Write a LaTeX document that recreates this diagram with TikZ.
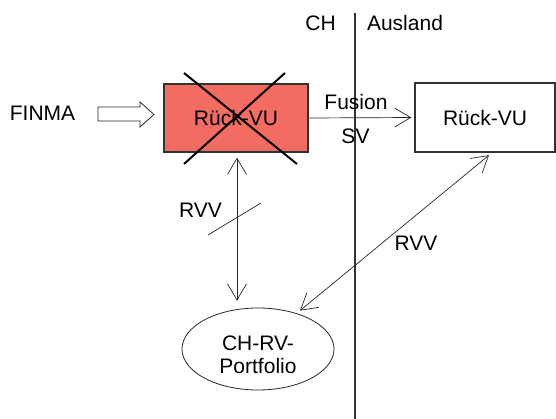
\documentclass[tikz,border=0pt]{standalone}
\usepackage{fontspec}
\setmainfont{Liberation Sans}
\usetikzlibrary{arrows.meta,shapes.geometric}
\definecolor{redfill}{RGB}{242,108,98}
\definecolor{edge}{RGB}{50,50,50}
\begin{document}
\begin{tikzpicture}[x=1pt,y=-1pt,
  every node/.style={font=\fontsize{21}{23}\selectfont, inner sep=0pt},
  box/.style={draw=edge, line width=1.4pt, rectangle},
  conn/.style={draw=black!85, line width=0.7pt, {Straight Barb[length=16pt,width=19pt]}-{Straight Barb[length=16pt,width=19pt]}},
  oneway/.style={draw=black!85, line width=0.7pt, -{Straight Barb[length=16pt,width=19pt]}},
  crossline/.style={line width=2pt, black}]
\useasboundingbox (0,0) rectangle (556,419);
% divider
\draw[line width=1.4pt, edge] (355,13) -- (355,419);
\node (ch) at (320.5,23) {CH};
\node (ausland) at (405,23) {Ausland};
% boxes
\node[box, fill=redfill, minimum width=144pt, minimum height=68pt] (red) at (236,118) {Rück-VU};
\node[box, fill=white, minimum width=140pt, minimum height=69pt] (rbox) at (485,117.5) {Rück-VU};
\node[draw=black!85, line width=0.8pt, ellipse, minimum width=152pt, minimum height=82pt] (port) at (258,349) {};
\node[align=center] (porttext) at (258,355) {CH-RV-\\Portfolio};
% cross
\draw[crossline] (184,73) -- (297,164);
\draw[crossline] (285,73) -- (184,164);
% FINMA
\node (finma) at (42.5,113) {FINMA};
\draw[line width=0.8pt, black!85] (98,107) -- (140,107) -- (140,102) -- (154,114.5) -- (140,127) -- (140,121) -- (98,121) -- cycle;
% Fusion
\draw[oneway, shorten >=3pt] (red.east) -- (rbox.west);
\node (fusion) at (356,102) {Fusion};
\node (sv) at (355.5,136) {SV};
% vertical RVV
\coordinate (vx) at (237,0);
\draw[conn, shorten <=5pt, shorten >=7pt] (red.south -| vx) -- (port.north -| vx);
\draw[line width=0.7pt, black!85] (208,235) -- (261,203);
\node (rvv1) at (200.5,210) {RVV};
% diagonal RVV
\draw[conn] ([xshift=4pt,yshift=-2.5pt]rbox.south) -- ([xshift=42pt,yshift=-3pt]port.north);
\node (rvv2) at (416,243) {RVV};
\end{tikzpicture}
\end{document}
